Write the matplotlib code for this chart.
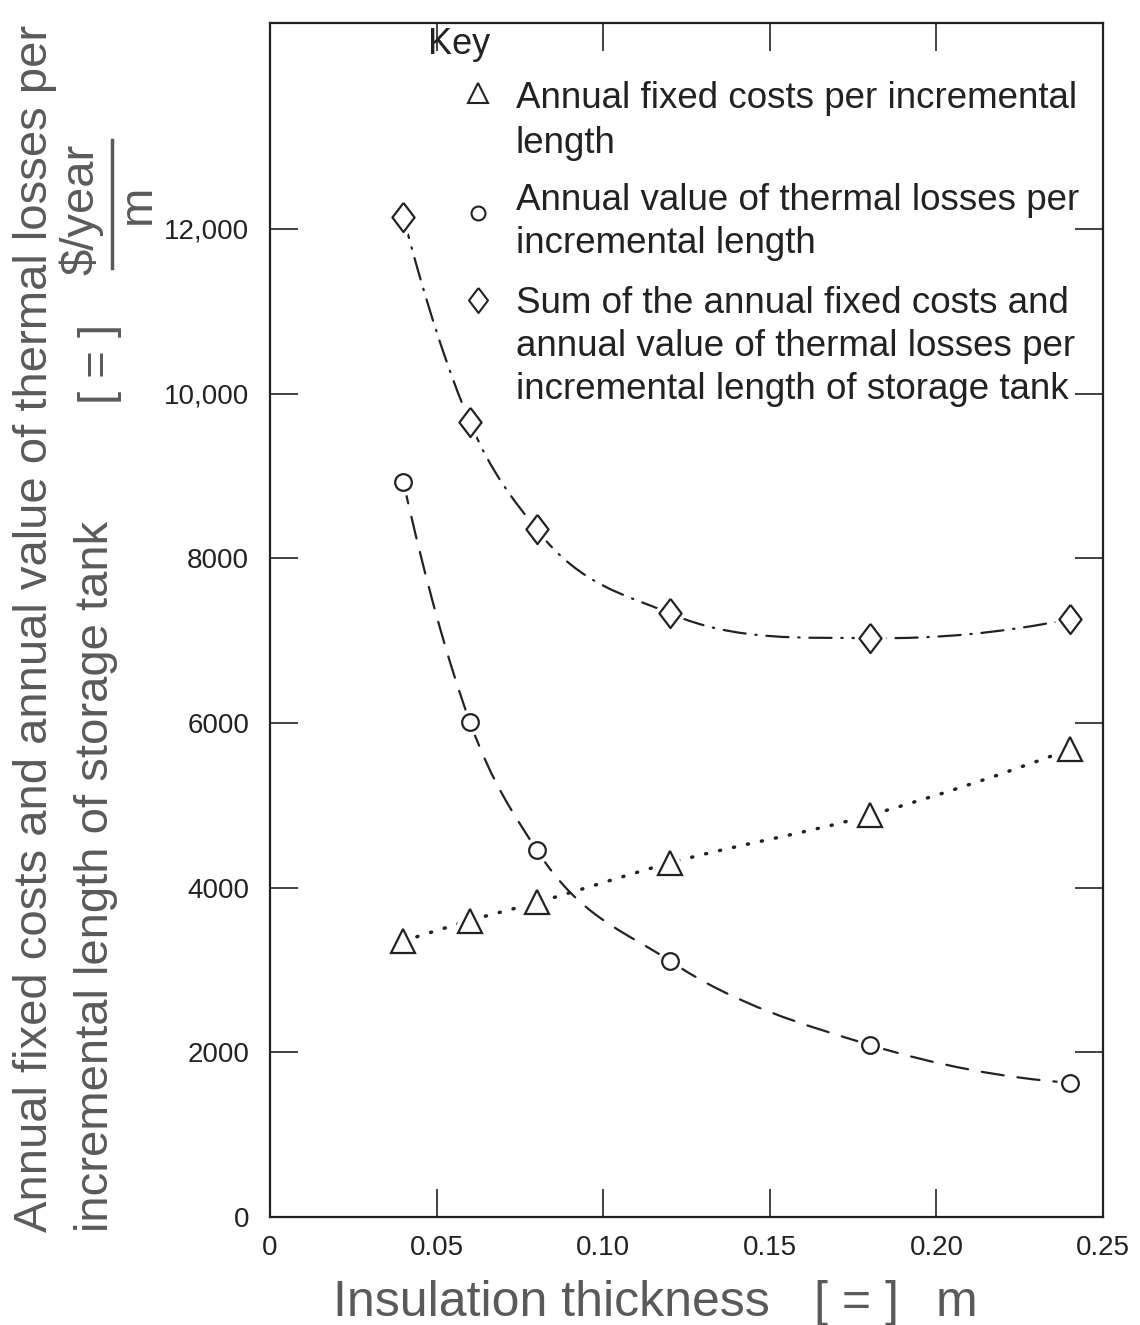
import numpy as np
import matplotlib
matplotlib.use("Agg")
import matplotlib.pyplot as plt
from matplotlib.path import Path
from matplotlib.patches import PathPatch
from matplotlib.lines import Line2D

plt.rcParams['lines.scale_dashes'] = False

# insulation thickness, m
thickness = [0.04, 0.06, 0.08, 0.12, 0.18, 0.24]
# $/year per m of tank
fixed_costs = [3350, 3600, 3820, 4300, 4880, 5680]
thermal_losses = [8930, 6010, 4460, 3110, 2090, 1630]
total_costs = [12150, 9650, 8350, 7330, 7030, 7260]

x_ticks = [0, 0.05, 0.10, 0.15, 0.20, 0.25]
x_tick_labels = ['0', '0.05', '0.10', '0.15', '0.20', '0.25']
y_ticks = [0, 2000, 4000, 6000, 8000, 10000, 12000]
y_tick_labels = ['0', '2000', '4000', '6000', '8000', '10,000', '12,000']

key_labels = [
    ['Annual fixed costs per incremental', 'length'],
    ['Annual value of thermal losses per', 'incremental length'],
    ['Sum of the annual fixed costs and', 'annual value of thermal losses per',
     'incremental length of storage tank'],
]

FONT = ['Liberation Sans', 'DejaVu Sans']
INK = '#222222'
LABEL_GRAY = '#5a5a5a'

W, H = 1140, 1325


def fx(px):
    return px / W


def fy(py):
    return 1 - py / H


def smooth_path(xs, ys):
    # piecewise cubic through the points, slopes from neighbouring quadratics
    xs = np.asarray(xs, float)
    ys = np.asarray(ys, float)
    h = np.diff(xs)
    d = np.diff(ys) / h
    m = np.empty_like(ys)
    m[1:-1] = (h[1:] * d[:-1] + h[:-1] * d[1:]) / (h[:-1] + h[1:])
    m[0] = ((2 * h[0] + h[1]) * d[0] - h[0] * d[1]) / (h[0] + h[1])
    m[-1] = ((2 * h[-1] + h[-2]) * d[-1] - h[-1] * d[-2]) / (h[-1] + h[-2])
    verts = [(xs[0], ys[0])]
    codes = [Path.MOVETO]
    for i in range(len(xs) - 1):
        verts += [(xs[i] + h[i] / 3, ys[i] + m[i] * h[i] / 3),
                  (xs[i + 1] - h[i] / 3, ys[i + 1] - m[i + 1] * h[i] / 3),
                  (xs[i + 1], ys[i + 1])]
        codes += [Path.CURVE4] * 3
    return Path(verts, codes)


diamond = [(0, 1), (0.76, 0), (0, -1), (-0.76, 0), (0, 1)]

fig = plt.figure(figsize=(W / 100, H / 100), dpi=100)
ax = fig.add_axes([fx(270), fy(1217), 833 / W, 1194 / H])

series = [
    (total_costs, (0, (16, 7, 1, 7)), 1.6, diamond, 21),
    (thermal_losses, (0, (16, 10)), 1.6, 'o', 12),
    (fixed_costs, (0, (0.8, 9.5)), 2.5, '^', 17),
]

for vals, ls, lw, mk, ms in series:
    ax.add_patch(PathPatch(smooth_path(thickness, vals), fill=False,
                           edgecolor=INK, lw=lw, linestyle=ls,
                           capstyle='round', zorder=2))
    # white halo leaves a small gap where the curve meets each symbol
    ax.plot(thickness, vals, linestyle='none', marker=mk, markersize=ms,
            markerfacecolor='white', markeredgecolor='white',
            markeredgewidth=7, zorder=3)
    ax.plot(thickness, vals, linestyle='none', marker=mk, markersize=ms,
            markerfacecolor='white', markeredgecolor=INK,
            markeredgewidth=1.6, zorder=4)

ax.set_xlim(0, 0.25)
ax.set_ylim(0, 14500)
ax.set_xticks(x_ticks)
ax.set_xticklabels(x_tick_labels)
ax.set_yticks(y_ticks)
ax.set_yticklabels(y_tick_labels)
ax.tick_params(direction='in', length=20, width=1.2, color=INK,
               top=True, right=True, labelsize=20, labelcolor=INK)
ax.tick_params(axis='x', pad=13)
ax.tick_params(axis='y', pad=15)
for lab in ax.get_xticklabels() + ax.get_yticklabels():
    lab.set_family(FONT)
for sp in ax.spines.values():
    sp.set_linewidth(1.6)
    sp.set_color(INK)

# key
fig.text(fx(428), fy(54), 'Key', family=FONT, size=26, color=INK,
         ha='left', va='baseline')
key_marks = [('^', 14, 93), ('o', 10, 213), (diamond, 18, 300)]
key_baselines = [[108, 153], [210, 253], [313, 356, 399]]
for (mk, ms, my), lines, bases in zip(key_marks, key_labels, key_baselines):
    fig.add_artist(Line2D([fx(478)], [fy(my)], transform=fig.transFigure,
                          marker=mk, markersize=ms, markerfacecolor='white',
                          markeredgecolor=INK, markeredgewidth=1.5))
    for line, b in zip(lines, bases):
        fig.text(fx(516), fy(b), line, family=FONT, size=26.5, color=INK,
                 ha='left', va='baseline')

# axis titles
title_kw = dict(family=FONT, size=36, color=LABEL_GRAY)
fig.text(fx(333), fy(1316), 'Insulation thickness', ha='left',
         va='baseline', **title_kw)
fig.text(fx(814), fy(1316), '[ = ]', ha='left', va='baseline', **title_kw)
fig.text(fx(936), fy(1316), 'm', ha='left', va='baseline', **title_kw)

title_kw['size'] = 34
vert_kw = dict(rotation=90, rotation_mode='anchor', va='baseline', **title_kw)
fig.text(fx(47), fy(1232),
         'Annual fixed costs and annual value of thermal losses per',
         ha='left', **vert_kw)
fig.text(fx(108), fy(1232), 'incremental length of storage tank',
         ha='left', **vert_kw)
fig.text(fx(112), fy(404), '[ = ]', ha='left', **vert_kw)
fig.text(fx(93), fy(275), '$/year', ha='left', **vert_kw)
fig.add_artist(Line2D([fx(112), fx(112)], [fy(268), fy(140)],
                      transform=fig.transFigure, lw=2.5, color=LABEL_GRAY))
fig.text(fx(150), fy(204), 'm', ha='center', **vert_kw)

fig.savefig('out.png', dpi=100, facecolor='white')
